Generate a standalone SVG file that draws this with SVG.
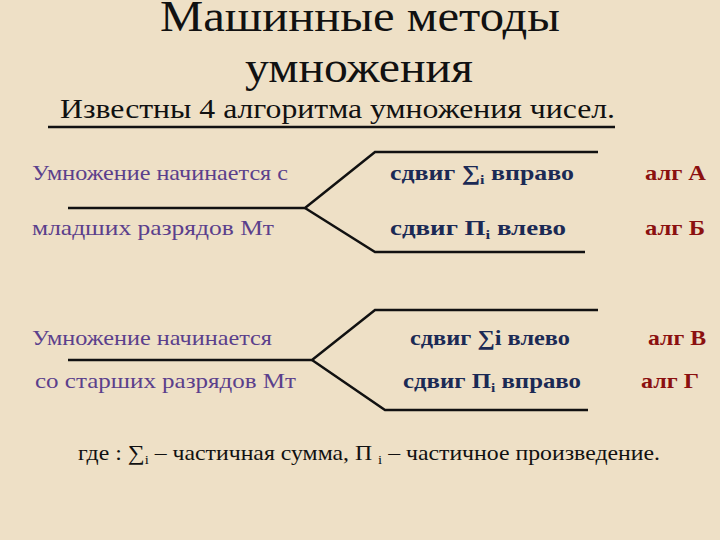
<svg xmlns="http://www.w3.org/2000/svg" width="720" height="540" viewBox="0 0 720 540">
<style>
.t{font-family:"Liberation Serif",serif;fill:#111}
.p{font-family:"Liberation Serif",serif;font-size:21px;fill:#5b3f8c}
.b{font-family:"Liberation Serif",serif;font-size:21px;font-weight:bold;fill:#1b2a55}
.r{font-family:"Liberation Serif",serif;font-size:21px;font-weight:bold;fill:#8b1010}
.l{stroke:#111;stroke-width:2.5;fill:none}
</style>
<rect width="720" height="540" fill="#EEE0C6"/>
<g id="title">
<text class="t" x="160" y="31" font-size="44" textLength="400" lengthAdjust="spacingAndGlyphs">Машинные  методы</text>
<text class="t" x="245" y="82" font-size="44" textLength="228" lengthAdjust="spacingAndGlyphs">умножения</text>
<text class="t" x="60" y="118" font-size="27" textLength="555" lengthAdjust="spacingAndGlyphs">Известны 4 алгоритма умножения чисел.</text>
</g>
<g id="connectors">
<line class="l" x1="48" y1="127" x2="615" y2="127"/>
<polyline class="l" points="598,152 375,152 305,208 68,208"/>
<polyline class="l" points="585,252 375,252 305,208"/>
<polyline class="l" points="598,310 375,310 312,360 68,360"/>
<polyline class="l" points="588,410 385,410 312,360"/>
</g>
<g id="n1"><text class="p" x="32" y="180" textLength="256" lengthAdjust="spacingAndGlyphs">Умножение начинается с</text><text class="p" x="32" y="235" textLength="242" lengthAdjust="spacingAndGlyphs">младших разрядов   Мт</text></g>
<g id="n2"><text class="b" x="390" y="180" textLength="184" lengthAdjust="spacingAndGlyphs">сдвиг ∑<tspan font-size="13" dy="4">i</tspan><tspan dy="-4"> вправо</tspan></text><text class="r" x="645" y="180" textLength="61" lengthAdjust="spacingAndGlyphs">алг А</text></g>
<g id="n3"><text class="b" x="390" y="235" textLength="176" lengthAdjust="spacingAndGlyphs">сдвиг  П<tspan font-size="13" dy="4">i</tspan><tspan dy="-4"> влево</tspan></text><text class="r" x="645" y="235" textLength="60" lengthAdjust="spacingAndGlyphs">алг Б</text></g>
<g id="n4"><text class="p" x="32" y="345" textLength="240" lengthAdjust="spacingAndGlyphs">Умножение начинается</text><text class="p" x="35" y="388" textLength="261" lengthAdjust="spacingAndGlyphs">со старших разрядов   Мт</text></g>
<g id="n5"><text class="b" x="410" y="345" textLength="160" lengthAdjust="spacingAndGlyphs">сдвиг ∑i влево</text><text class="r" x="648" y="345" textLength="58" lengthAdjust="spacingAndGlyphs">алг В</text></g>
<g id="n6"><text class="b" x="403" y="388" textLength="178" lengthAdjust="spacingAndGlyphs">сдвиг  П<tspan font-size="13" dy="4">i</tspan><tspan dy="-4"> вправо</tspan></text><text class="r" x="641" y="388" textLength="58" lengthAdjust="spacingAndGlyphs">алг Г</text></g>
<g id="note"><text class="t" x="78" y="460" font-size="21" textLength="582" lengthAdjust="spacingAndGlyphs">где : ∑<tspan font-size="13" dy="4">i</tspan><tspan dy="-4"> – частичная сумма, П </tspan><tspan font-size="13" dy="4">i</tspan><tspan dy="-4"> – частичное произведение.</tspan></text></g>
</svg>
